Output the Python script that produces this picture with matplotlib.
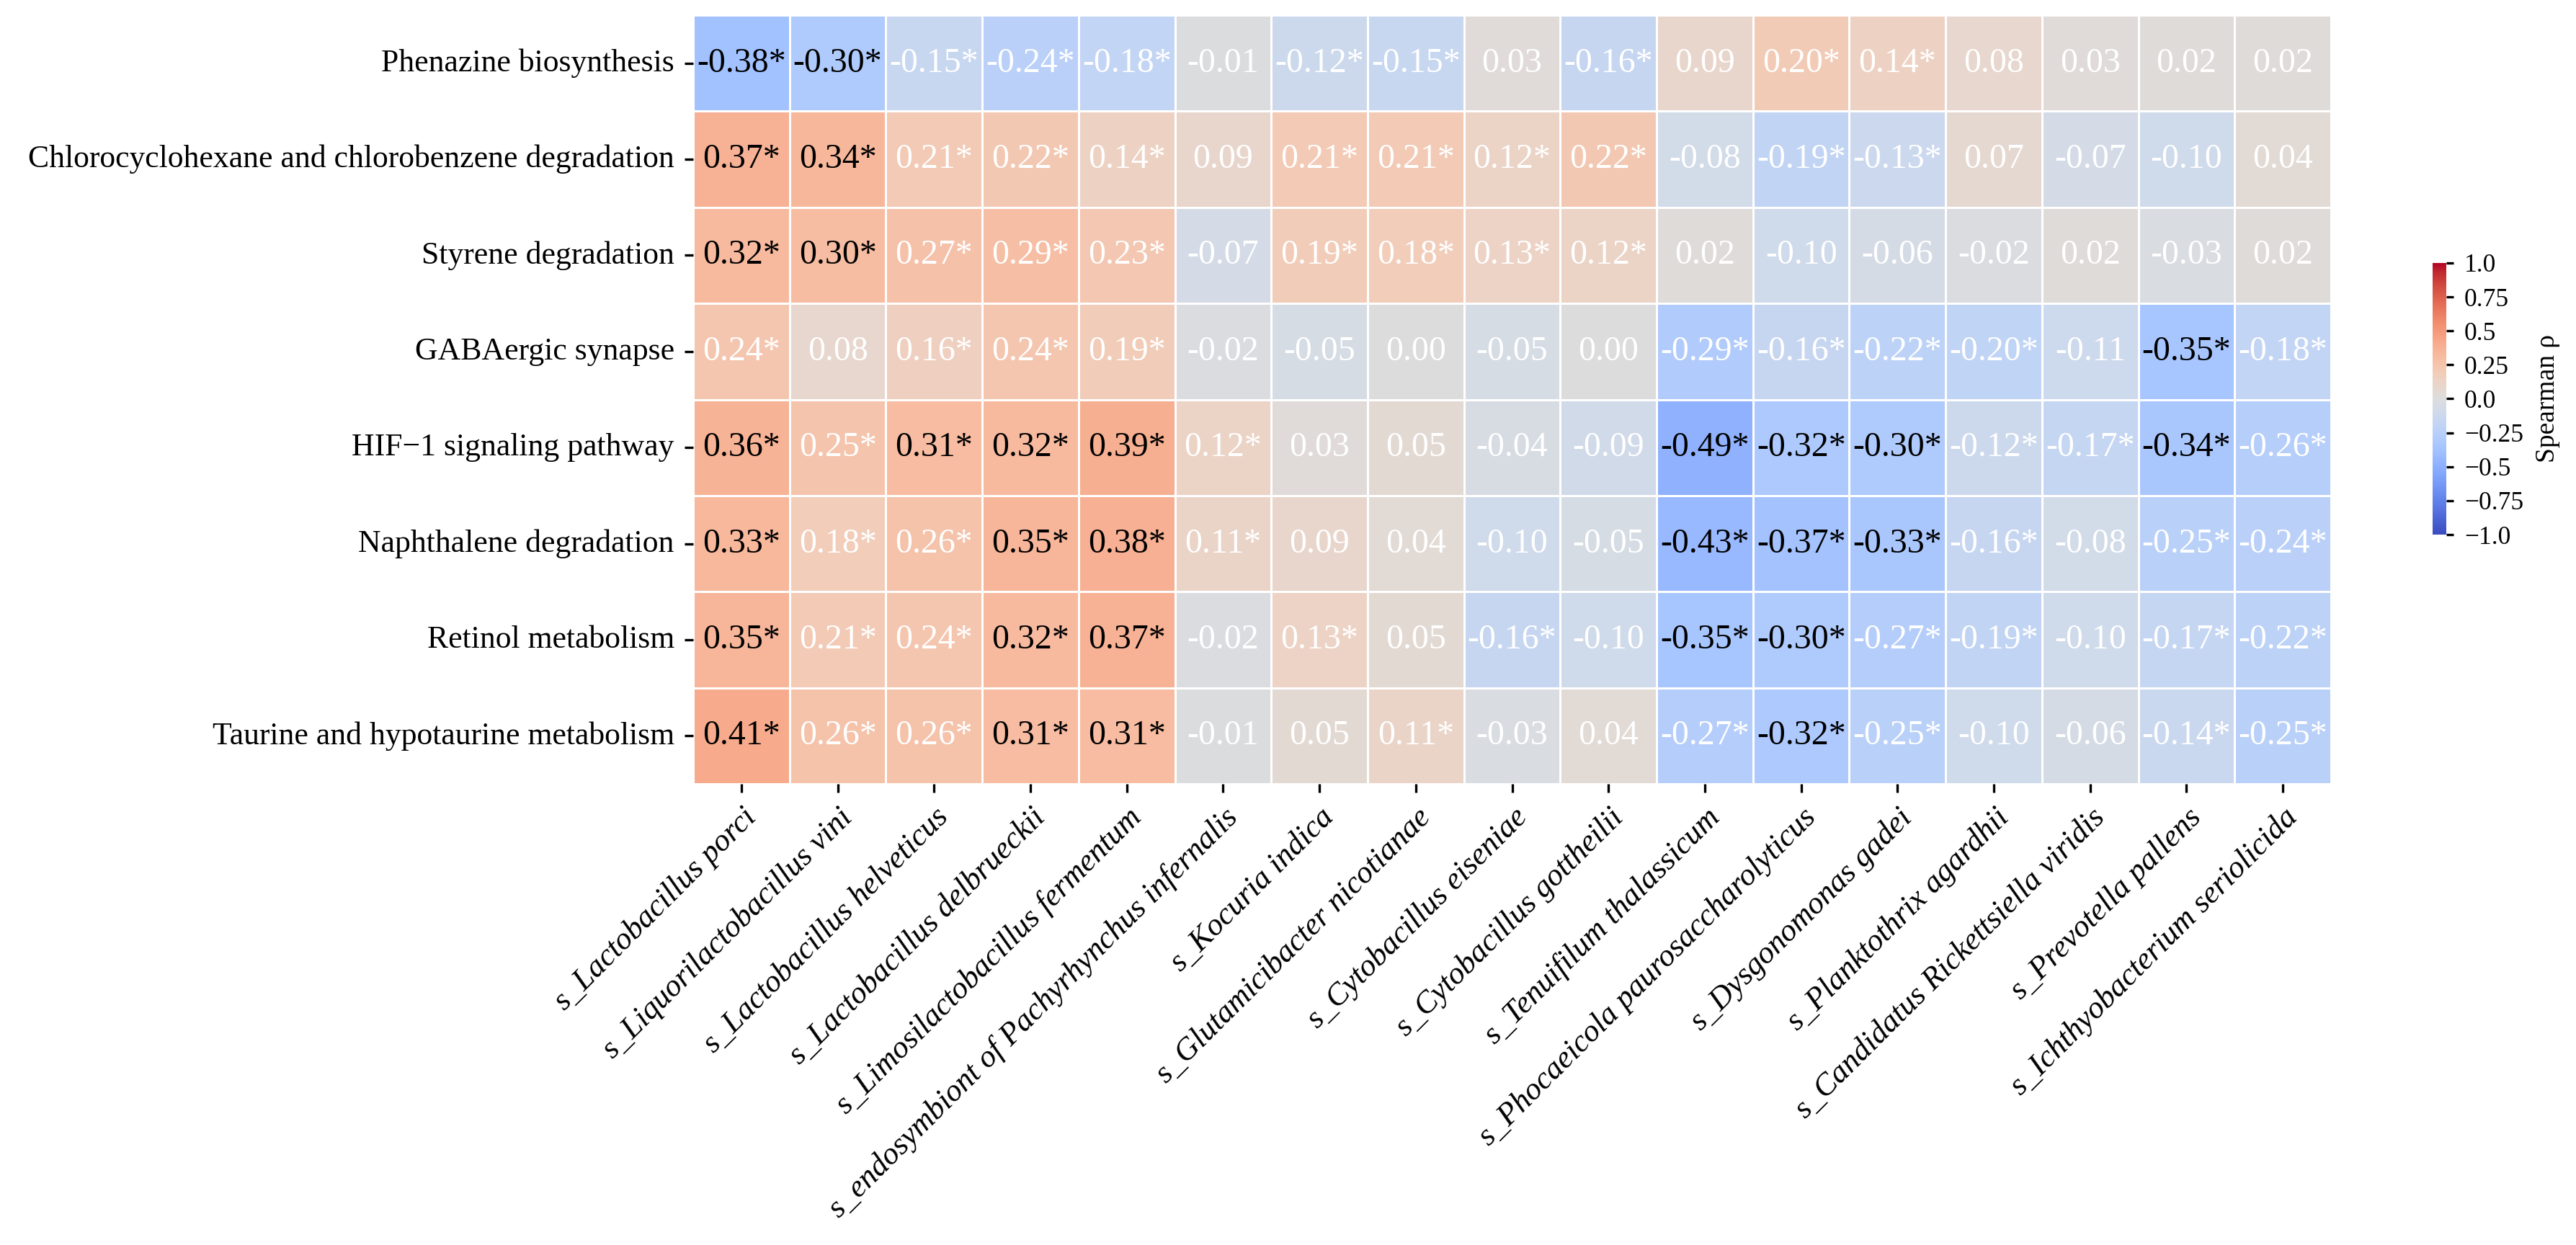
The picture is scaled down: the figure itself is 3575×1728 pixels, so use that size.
import numpy as np
import matplotlib
matplotlib.use('Agg')
import matplotlib.pyplot as plt
import seaborn as sns

plt.rcParams['font.family'] = ['Liberation Serif', 'DejaVu Serif']

pathways = ['Phenazine biosynthesis',
            'Chlorocyclohexane and chlorobenzene degradation',
            'Styrene degradation',
            'GABAergic synapse',
            'HIF\u22121 signaling pathway',
            'Naphthalene degradation',
            'Retinol metabolism',
            'Taurine and hypotaurine metabolism']

species = ['s_Lactobacillus porci', 's_Liquorilactobacillus vini',
           's_Lactobacillus helveticus', 's_Lactobacillus delbrueckii',
           's_Limosilactobacillus fermentum',
           's_endosymbiont of Pachyrhynchus infernalis',
           's_Kocuria indica', 's_Glutamicibacter nicotianae',
           's_Cytobacillus eiseniae', 's_Cytobacillus gottheilii',
           's_Tenuifilum thalassicum', 's_Phocaeicola paurosaccharolyticus',
           's_Dysgonomonas gadei', 's_Planktothrix agardhii',
           's_Candidatus Rickettsiella viridis', 's_Prevotella pallens',
           's_Ichthyobacterium seriolicida']

# spearman rho
rho = np.array([
    [-0.38, -0.30, -0.15, -0.24, -0.18, -0.01, -0.12, -0.15, 0.03, -0.16, 0.09, 0.20, 0.14, 0.08, 0.03, 0.02, 0.02],
    [0.37, 0.34, 0.21, 0.22, 0.14, 0.09, 0.21, 0.21, 0.12, 0.22, -0.08, -0.19, -0.13, 0.07, -0.07, -0.10, 0.04],
    [0.32, 0.30, 0.27, 0.29, 0.23, -0.07, 0.19, 0.18, 0.13, 0.12, 0.02, -0.10, -0.06, -0.02, 0.02, -0.03, 0.02],
    [0.24, 0.08, 0.16, 0.24, 0.19, -0.02, -0.05, 0.00, -0.05, 0.00, -0.29, -0.16, -0.22, -0.20, -0.11, -0.35, -0.18],
    [0.36, 0.25, 0.31, 0.32, 0.39, 0.12, 0.03, 0.05, -0.04, -0.09, -0.49, -0.32, -0.30, -0.12, -0.17, -0.34, -0.26],
    [0.33, 0.18, 0.26, 0.35, 0.38, 0.11, 0.09, 0.04, -0.10, -0.05, -0.43, -0.37, -0.33, -0.16, -0.08, -0.25, -0.24],
    [0.35, 0.21, 0.24, 0.32, 0.37, -0.02, 0.13, 0.05, -0.16, -0.10, -0.35, -0.30, -0.27, -0.19, -0.10, -0.17, -0.22],
    [0.41, 0.26, 0.26, 0.31, 0.31, -0.01, 0.05, 0.11, -0.03, 0.04, -0.27, -0.32, -0.25, -0.10, -0.06, -0.14, -0.25],
])

# 1 = significant (marked with *)
sig = np.array([
    [1, 1, 1, 1, 1, 0, 1, 1, 0, 1, 0, 1, 1, 0, 0, 0, 0],
    [1, 1, 1, 1, 1, 0, 1, 1, 1, 1, 0, 1, 1, 0, 0, 0, 0],
    [1, 1, 1, 1, 1, 0, 1, 1, 1, 1, 0, 0, 0, 0, 0, 0, 0],
    [1, 0, 1, 1, 1, 0, 0, 0, 0, 0, 1, 1, 1, 1, 0, 1, 1],
    [1, 1, 1, 1, 1, 1, 0, 0, 0, 0, 1, 1, 1, 1, 1, 1, 1],
    [1, 1, 1, 1, 1, 1, 0, 0, 0, 0, 1, 1, 1, 1, 0, 1, 1],
    [1, 1, 1, 1, 1, 0, 1, 0, 1, 0, 1, 1, 1, 1, 0, 1, 1],
    [1, 1, 1, 1, 1, 0, 0, 1, 0, 0, 1, 1, 1, 0, 0, 1, 1],
])

cbar_ticks = [-1.0, -0.75, -0.5, -0.25, 0.0, 0.25, 0.5, 0.75, 1.0]

fig = plt.figure(figsize=(3575/300, 1728/300), dpi=300)
ax = fig.add_axes([0.2691, 0.3704, 0.6358, 0.6174])
cax = fig.add_axes([0.9443, 0.5706, 0.0053, 0.2182])

sns.heatmap(rho, cmap='coolwarm', vmin=-1, vmax=1, linewidths=0.6,
            linecolor='white', ax=ax, cbar_ax=cax,
            xticklabels=species, yticklabels=pathways)

for i in range(rho.shape[0]):
    for j in range(rho.shape[1]):
        v = rho[i, j]
        txt = '%.2f' % v + ('*' if sig[i, j] else '')
        col = 'black' if abs(v) >= 0.295 else 'white'
        ax.text(j + 0.5, i + 0.5, txt, ha='center', va='center',
                fontsize=11.5, color=col)

ax.tick_params(axis='both', length=2.8, width=0.8, labelsize=10.5)
plt.setp(ax.get_yticklabels(), rotation=0)
plt.setp(ax.get_xticklabels(), rotation=45, ha='right',
         rotation_mode='anchor', style='italic')

cax.set_yticks(cbar_ticks)
cax.set_yticklabels([str(t).replace('-', '\u2212') for t in cbar_ticks])
cax.tick_params(labelsize=8.5, length=2.5, width=0.8)
cax.set_ylabel('Spearman \u03c1', fontsize=9)

plt.savefig('out.png', dpi=300)
